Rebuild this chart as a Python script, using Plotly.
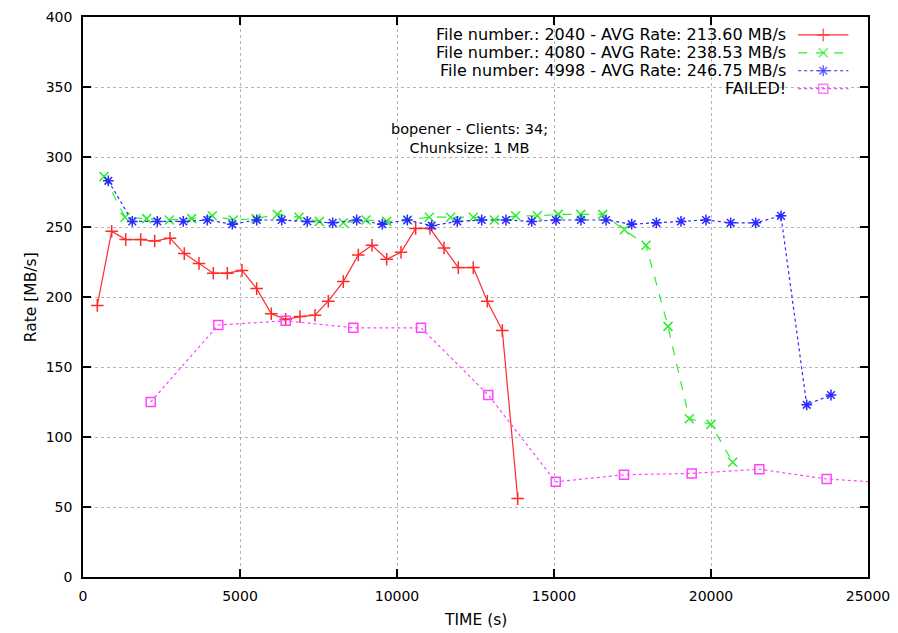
import plotly.graph_objects as go

# Transfer rate samples per run: elapsed time (s) and rate (MB/s)
time_2040 = [455, 914, 1360, 1838, 2283, 2771, 3226, 3694, 4150, 4596,
             5064, 5532, 5997, 6455, 6911, 7389, 7812, 8290, 8768, 9204,
             9672, 10127, 10595, 11051, 11497, 11952, 12430, 12876, 13354, 13844]
rate_2040 = [194, 247, 241, 241, 240, 242, 231, 224, 217, 217,
             219, 206, 188, 184, 186, 187, 197, 211, 230, 237,
             227, 232, 249, 249, 235, 221, 221, 197, 176, 56]

time_4080 = [669, 1338, 2028, 2749, 3461, 4118, 4787, 5510, 6189, 6879,
             7526, 8290, 9013, 9672, 10341, 11029, 11710, 12430, 13099, 13780,
             14468, 15137, 15850, 16551, 17239, 17930, 18630, 19309, 20000, 20691]
rate_4080 = [286, 257, 256, 255, 256, 258, 255, 256, 259, 257,
             254, 253, 255, 254, 255, 257, 257, 257, 255, 258,
             258, 259, 259, 259, 248, 237, 179, 113, 109, 82]

time_4998 = [806, 1570, 2366, 3194, 3959, 4755, 5532, 6328, 7143, 7952,
             8716, 9532, 10328, 11105, 11920, 12697, 13471, 14290, 15064, 15860,
             16656, 17475, 18260, 19045, 19841, 20627, 21423, 22229, 23047, 23822]
rate_4998 = [283, 254, 254, 254, 255, 252, 255, 255, 254, 253,
             255, 252, 255, 251, 254, 255, 255, 254, 255, 255,
             255, 252, 253, 254, 255, 253, 253, 258, 123, 130]

time_failed = [2156, 4309, 6455, 8609, 10764, 12908, 15054, 17229, 19385, 21538, 23683, 25830]
rate_failed = [125, 180, 183, 178, 178, 130, 68, 73, 74, 77, 70, 67]

legend_labels = [
    "File number.: 2040 - AVG Rate: 213.60 MB/s",
    "File number.: 4080 - AVG Rate: 238.53 MB/s",
    "File number: 4998 - AVG Rate: 246.75 MB/s",
    "FAILED!",
]

x_ticks = [0, 5000, 10000, 15000, 20000, 25000]
x_tick_text = ["0", "5000", "10000", "15000", "20000", "25000"]
y_ticks = [0, 50, 100, 150, 200, 250, 300, 350, 400]
y_tick_text = ["0", "50", "100", "150", "200", "250", "300", "350", "400"]

FONT = "DejaVu Sans, Verdana, sans-serif"

styles = [
    dict(color="#ff2a2a", dash="solid", symbol="cross-thin-open", size=9),
    dict(color="#2aee2a", dash="dash", symbol="x-thin-open", size=9),
    dict(color="#2a2aff", dash="dot", symbol="asterisk-open", size=9),
    dict(color="#ff44ff", dash="dot", symbol="square-open", size=9),
]

series = [
    (time_2040, rate_2040),
    (time_4080, rate_4080),
    (time_4998, rate_4998),
    (time_failed, rate_failed),
]

fig = go.Figure()

for (xs, ys), st in zip(series, styles):
    fig.add_trace(go.Scatter(
        x=xs, y=ys, mode="lines+markers",
        line=dict(color=st["color"], width=1.2, dash=st["dash"]),
        marker=dict(symbol=st["symbol"], size=st["size"],
                    color=st["color"], line=dict(color=st["color"], width=1.5)),
        showlegend=False, hoverinfo="skip",
    ))

# Key in the upper right: right-aligned text followed by a line sample
key_x0, key_x1 = 0.911, 0.975
key_rows = [0.968, 0.936, 0.904, 0.872]
for label, st, ky in zip(legend_labels, styles, key_rows):
    fig.add_trace(go.Scatter(
        x=[key_x0, (key_x0 + key_x1) / 2, key_x1], y=[ky, ky, ky],
        xaxis="x2", yaxis="y2", mode="lines+markers",
        line=dict(color=st["color"], width=1.2, dash=st["dash"]),
        marker=dict(symbol=st["symbol"], size=[0, st["size"], 0],
                    color=st["color"], line=dict(color=st["color"], width=1.5)),
        showlegend=False, hoverinfo="skip",
    ))
    fig.add_annotation(
        x=0.8985, y=ky, xref="paper", yref="paper",
        text=label, showarrow=False, xanchor="right", yanchor="middle",
        font=dict(family=FONT, size=16, color="#000000"),
    )

fig.add_annotation(
    x=0.4925, y=0.783, xref="paper", yref="paper",
    text="bopener - Clients: 34;<br>Chunksize: 1 MB",
    showarrow=False, xanchor="center", yanchor="middle", align="center",
    font=dict(family=FONT, size=14.5, color="#000000"),
)

# Axis titles
fig.add_annotation(
    x=0.5, y=-0.077, xref="paper", yref="paper", text="TIME (s)",
    showarrow=False, xanchor="center", yanchor="middle",
    font=dict(family=FONT, size=15.5, color="#000000"),
)
fig.add_annotation(
    x=-0.066, y=0.5, xref="paper", yref="paper", text="Rate [MB/s]",
    showarrow=False, xanchor="center", yanchor="middle", textangle=-90,
    font=dict(family=FONT, size=15.5, color="#000000"),
)

axis_common = dict(
    showline=True, linecolor="#000000", linewidth=1.5, mirror="ticks",
    ticks="inside", ticklen=8, tickcolor="#000000", tickwidth=1.5,
    showgrid=True, gridcolor="#b4b4b4", griddash="dot", gridwidth=1,
    zeroline=False, automargin=False,
    tickfont=dict(family=FONT, size=14, color="#000000"),
)

fig.update_layout(
    width=898, height=633,
    margin=dict(l=83, r=30, t=17, b=56),
    paper_bgcolor="#ffffff", plot_bgcolor="#ffffff",
    xaxis=dict(range=[0, 25000], tickvals=x_ticks, ticktext=x_tick_text,
               ticklabelstandoff=5, **axis_common),
    yaxis=dict(range=[0, 400], tickvals=y_ticks, ticktext=y_tick_text,
               ticklabelstandoff=6, **axis_common),
    xaxis2=dict(range=[0, 1], overlaying="x", visible=False, fixedrange=True),
    yaxis2=dict(range=[0, 1], overlaying="y", visible=False, fixedrange=True),
)

fig.write_html("out.html")
